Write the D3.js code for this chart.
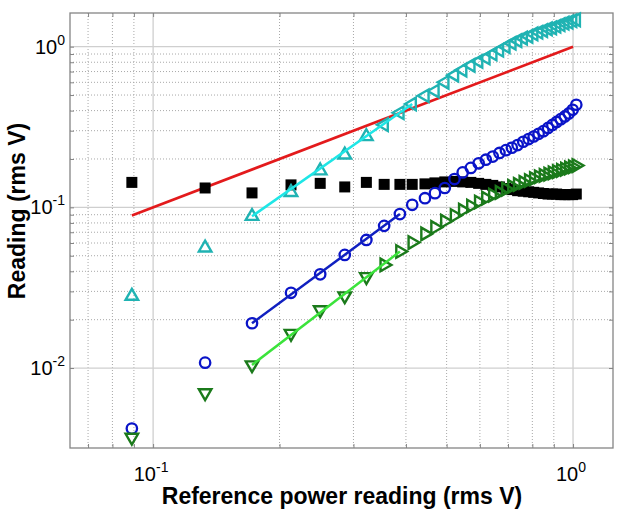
<!DOCTYPE html>
<html>
<head>
<meta charset="utf-8">
<script src="https://cdn.jsdelivr.net/npm/d3@7"></script>
<style>
  html, body { margin: 0; padding: 0; background: #fff; }
  svg { display: block; }
</style>
</head>
<body>
<svg id="chart" width="624" height="515"></svg>
<script>
// ---------- data ----------
const refX = [0.089, 0.133, 0.172, 0.213, 0.250, 0.286, 0.322, 0.355, 0.387, 0.414, 0.444, 0.469,
  0.495, 0.522, 0.546, 0.571, 0.596, 0.620, 0.644, 0.668, 0.692, 0.715, 0.738, 0.761,
  0.784, 0.806, 0.828, 0.850, 0.872, 0.893, 0.914, 0.935, 0.956, 0.977, 0.998, 1.018];

const blackY = [0.143, 0.132, 0.123, 0.138, 0.141, 0.134, 0.143, 0.139, 0.139, 0.139, 0.140, 0.142,
  0.144, 0.145, 0.144, 0.143, 0.141, 0.139, 0.137, 0.134, 0.131, 0.129, 0.127, 0.126,
  0.125, 0.124, 0.123, 0.122, 0.121, 0.121, 0.121, 0.120, 0.120, 0.120, 0.120, 0.121];

const cyanY = [0.028, 0.056, 0.088, 0.124, 0.169, 0.212, 0.276, 0.327, 0.388, 0.440, 0.495, 0.530,
  0.600, 0.665, 0.715, 0.765, 0.810, 0.850, 0.900, 0.950, 1.000, 1.050, 1.090, 1.130,
  1.160, 1.200, 1.230, 1.260, 1.290, 1.310, 1.340, 1.370, 1.400, 1.420, 1.450, 1.470];

const blueY = [0.0042, 0.0108, 0.019, 0.0294, 0.0383, 0.0506, 0.0627, 0.0767, 0.0908, 0.1037, 0.114, 0.1226,
  0.132, 0.150, 0.165, 0.176, 0.188, 0.198, 0.207, 0.218, 0.227, 0.235, 0.244, 0.256,
  0.266, 0.276, 0.287, 0.298, 0.312, 0.326, 0.340, 0.354, 0.368, 0.384, 0.405, 0.435];

const greenY = [0.0037, 0.0070, 0.01045, 0.0164, 0.023, 0.0281, 0.037, 0.0438, 0.0531, 0.0604, 0.0684, 0.075,
  0.082, 0.089, 0.096, 0.102, 0.108, 0.114, 0.119, 0.124, 0.130, 0.135, 0.139, 0.143,
  0.147, 0.151, 0.155, 0.158, 0.161, 0.164, 0.167, 0.170, 0.173, 0.176, 0.179, 0.182];

// reference line y = x
const unityX = [0.089, 1.0];
// straight fit segments (endpoints)
const cyanFitX = [0.172, 0.414], cyanFitY = [0.088, 0.440];
const blueFitX = [0.172, 0.387], blueFitY = [0.019, 0.0908];
const greenFitX = [0.172, 0.387], greenFitY = [0.01045, 0.0531];

// index from which the triangle markers are drawn sideways
const sidewaysFrom = 7;

const xTickValues = [0.1, 1];
const xTickExp = ["-1", "0"];
const yTickValues = [0.01, 0.1, 1];
const yTickExp = ["-2", "-1", "0"];
const xTitle = "Reference power reading (rms V)";
const yTitle = "Reading (rms V)";

// ---------- layout ----------
const L = 70, R = 613, T = 13, B = 448;
const x = d3.scaleLog().domain([0.0634, 1.245]).range([L, R]);
const y = d3.scaleLog().domain([0.00318, 1.62]).range([B, T]);

const svg = d3.select("#chart");
const font = "Arial, 'Liberation Sans', Helvetica, sans-serif";

// grid
const xMinor = [], yMinor = [];
for (let d = 0.01; d <= 1; d *= 10) for (let k = 2; k <= 9; k++) {
  const v = +(k * d).toPrecision(3);
  if (v > x.domain()[0] && v < x.domain()[1]) xMinor.push(v);
  if (v > y.domain()[0] && v < y.domain()[1]) yMinor.push(v);
}
const g = svg.append("g");
g.selectAll(".gx").data(xMinor).join("line")
  .attr("x1", d => x(d)).attr("x2", d => x(d)).attr("y1", T).attr("y2", B)
  .attr("stroke", "#a8a8a8").attr("stroke-width", 1).attr("stroke-dasharray", "1,2");
g.selectAll(".gy").data(yMinor).join("line")
  .attr("y1", d => y(d)).attr("y2", d => y(d)).attr("x1", L).attr("x2", R)
  .attr("stroke", "#a8a8a8").attr("stroke-width", 1).attr("stroke-dasharray", "1,2");
g.selectAll(".gX").data(xTickValues).join("line")
  .attr("x1", d => x(d)).attr("x2", d => x(d)).attr("y1", T).attr("y2", B)
  .attr("stroke", "#cfcfcf").attr("stroke-width", 1.3);
g.selectAll(".gY").data(yTickValues).join("line")
  .attr("y1", d => y(d)).attr("y2", d => y(d)).attr("x1", L).attr("x2", R)
  .attr("stroke", "#cfcfcf").attr("stroke-width", 1.3);

// axes with inside ticks on all four sides
const axisColor = "#858585";
function styleAxis(sel) {
  sel.select(".domain").remove();
  sel.selectAll(".tick line").attr("stroke", axisColor);
  sel.selectAll(".tick text").remove();
}
const allX = xTickValues.concat(xMinor), allY = yTickValues.concat(yMinor);
svg.append("g").attr("transform", `translate(0,${B})`)
  .call(d3.axisBottom(x).tickValues(allX).tickSize(-4)).call(styleAxis);
svg.append("g").attr("transform", `translate(0,${T})`)
  .call(d3.axisTop(x).tickValues(allX).tickSize(-4)).call(styleAxis);
svg.append("g").attr("transform", `translate(${L},0)`)
  .call(d3.axisLeft(y).tickValues(allY).tickSize(-4)).call(styleAxis);
svg.append("g").attr("transform", `translate(${R},0)`)
  .call(d3.axisRight(y).tickValues(allY).tickSize(-4)).call(styleAxis);
svg.append("rect").attr("x", L).attr("y", T).attr("width", R - L).attr("height", B - T)
  .attr("fill", "none").attr("stroke", axisColor).attr("stroke-width", 1.3);

// tick labels 10^n
xTickValues.forEach((v, i) => {
  const t = svg.append("text").attr("x", x(v) - 2).attr("y", 481)
    .attr("text-anchor", "middle").attr("font-family", font).attr("font-size", 20).attr("fill", "#000");
  t.append("tspan").text("10");
  t.append("tspan").attr("dy", -9).attr("font-size", 14).text(xTickExp[i]);
});
yTickValues.forEach((v, i) => {
  const t = svg.append("text").attr("x", 65).attr("y", y(v) + 7)
    .attr("text-anchor", "end").attr("font-family", font).attr("font-size", 20).attr("fill", "#000");
  t.append("tspan").text("10");
  t.append("tspan").attr("dy", -9).attr("font-size", 14).text(yTickExp[i]);
});

// titles
svg.append("text").attr("x", 342).attr("y", 504).attr("text-anchor", "middle")
  .attr("font-family", font).attr("font-weight", "bold").attr("font-size", 23).text(xTitle);
svg.append("text").attr("transform", "translate(25,211) rotate(-90)").attr("text-anchor", "middle")
  .attr("font-family", font).attr("font-weight", "bold").attr("font-size", 23).text(yTitle);

// ---------- data marks ----------
const plot = svg.append("g");
const line = d3.line().x(d => x(d[0])).y(d => y(d[1]));

// red unity line
plot.append("path").datum(unityX.map(v => [v, v])).attr("d", line)
  .attr("fill", "none").attr("stroke", "#e31a1c").attr("stroke-width", 2.6);

// black squares
plot.selectAll(".sq").data(refX.map((v, i) => [v, blackY[i]])).join("path")
  .attr("transform", d => `translate(${x(d[0])},${y(d[1])})`)
  .attr("d", d3.symbol(d3.symbolSquare, 121)()).attr("fill", "#000");

function triangles(ys, color, upRot, sideRot) {
  plot.append("g").selectAll("path").data(refX.map((v, i) => [v, ys[i], i])).join("path")
    .attr("transform", d => `translate(${x(d[0])},${y(d[1])}) rotate(${d[2] < sidewaysFrom ? upRot : sideRot})`)
    .attr("d", d3.symbol(d3.symbolTriangle, 68)())
    .attr("fill", "none").attr("stroke", color).attr("stroke-width", 2.4).attr("stroke-linejoin", "miter");
}
function fitLine(fx, fy, color) {
  plot.append("path").datum(fx.map((v, i) => [v, fy[i]])).attr("d", line)
    .attr("fill", "none").attr("stroke", color).attr("stroke-width", 2.5);
}

// cyan
triangles(cyanY, "#20b3b3", 0, -90);
fitLine(cyanFitX, cyanFitY, "#1ee6e6");

// blue circles
plot.append("g").selectAll("circle").data(refX.map((v, i) => [v, blueY[i]])).join("circle")
  .attr("cx", d => x(d[0])).attr("cy", d => y(d[1])).attr("r", 5.2)
  .attr("fill", "none").attr("stroke", "#0a14c8").attr("stroke-width", 2.3);
fitLine(blueFitX, blueFitY, "#1020c0");

// green
triangles(greenY, "#1b7a1b", 180, 90);
fitLine(greenFitX, greenFitY, "#3be33b");
</script>
</body>
</html>
